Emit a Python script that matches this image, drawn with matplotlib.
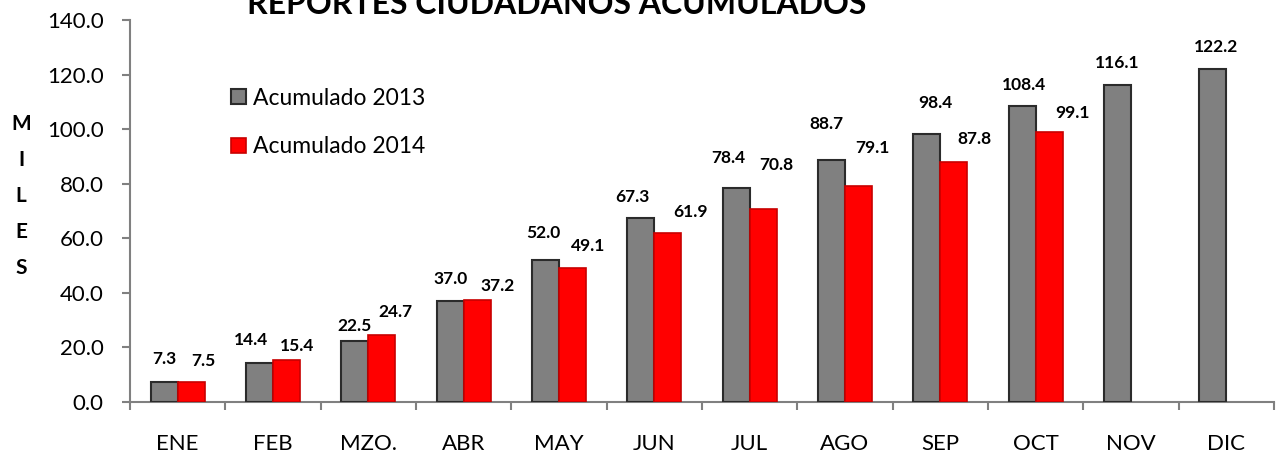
import matplotlib
matplotlib.use("Agg")
import matplotlib.pyplot as plt
import numpy as np

plt.rcParams['font.family'] = ['Lato', 'DejaVu Sans']

# data (thousands)
months = ['ENE', 'FEB', 'MZO.', 'ABR', 'MAY', 'JUN', 'JUL', 'AGO', 'SEP', 'OCT', 'NOV', 'DIC']
acum_2013 = [7.3, 14.4, 22.5, 37.0, 52.0, 67.3, 78.4, 88.7, 98.4, 108.4, 116.1, 122.2]
acum_2014 = [7.5, 15.4, 24.7, 37.2, 49.1, 61.9, 70.8, 79.1, 87.8, 99.1]

# label placement tweaks (data units), labels were moved by hand in the original
dy_2013 = [8.4, 8.3, 5.3, 8, 10.1, 8, 11.1, 13.3, 11.2, 7.8, 8.2, 7.9]
dx_2013 = [0, -0.09, 0, 0, -0.02, -0.09, -0.08, -0.05, 0.09, 0.02, 0, 0.03]
dy_2014 = [7.5, 5, 8.2, 5.2, 7.9, 7.9, 16.2, 14.1, 8.6, 6.9]
dx_2014 = [0.13, 0.11, 0.14, 0.21, 0.16, 0.24, 0.14, 0.15, 0.22, 0.25]

fig = plt.figure(figsize=(12.78, 4.58), dpi=100)
ax = fig.add_axes([130 / 1278, 1 - 402 / 458, 1144 / 1278, 382 / 458])

x = np.arange(len(months))
w = 0.283
ax.bar(x[:len(acum_2013)] - w / 2, acum_2013, w, color='#808080', edgecolor='#2b2b2b',
       linewidth=1.5, label='Acumulado 2013', zorder=3)
ax.bar(x[:len(acum_2014)] + w / 2, acum_2014, w, color='#ff0000', edgecolor='#c80000',
       linewidth=1.2, label='Acumulado 2014', zorder=3)

for i, v in enumerate(acum_2013):
    ax.text(x[i] - w / 2 + dx_2013[i], v + dy_2013[i], f'{v:.1f}', ha='center', va='center',
            fontsize=12.5, fontweight='bold')
for i, v in enumerate(acum_2014):
    ax.text(x[i] + w / 2 + dx_2014[i], v + dy_2014[i], f'{v:.1f}', ha='center', va='center',
            fontsize=12.5, fontweight='bold')

ax.set_xlim(-0.5, len(months) - 0.5)
ax.set_ylim(0, 140)
yt = np.arange(0, 141, 20)
ax.set_yticks(yt)
ax.set_yticklabels([f'{t:.1f}' for t in yt], fontsize=16)
ax.set_xticks(x)
ax.set_xticklabels(months, fontsize=16)
ax.set_xticks(np.arange(-0.5, len(months), 1), minor=True)
ax.tick_params(axis='x', which='major', length=0, pad=23)
ax.tick_params(axis='x', which='minor', length=6, color='#808080', width=1.5)
ax.tick_params(axis='y', length=6, color='#808080', width=1.5, pad=13)

for s in ['top', 'right']:
    ax.spines[s].set_visible(False)
for s in ['left', 'bottom']:
    ax.spines[s].set_color('#808080')
    ax.spines[s].set_linewidth(1.5)

ax.legend(loc='center left', bbox_to_anchor=(231 / 1278, 1 - 122.5 / 458),
          bbox_transform=fig.transFigure, frameon=False, fontsize=16.5,
          handlelength=0.65, handleheight=0.65, handletextpad=0.3, labelspacing=1.22,
          borderpad=0, borderaxespad=0)

fig.text(21 / 1278, 1 - 195.5 / 458, 'M\nI\nL\nE\nS', ha='center', va='center',
         fontsize=15, fontweight='bold', linespacing=2.0)
fig.text(557 / 1278, 1 - 14 / 458, 'REPORTES CIUDADANOS ACUMULADOS', ha='center',
         va='baseline', fontsize=23, fontweight='bold')

fig.savefig('out.png', dpi=100)
